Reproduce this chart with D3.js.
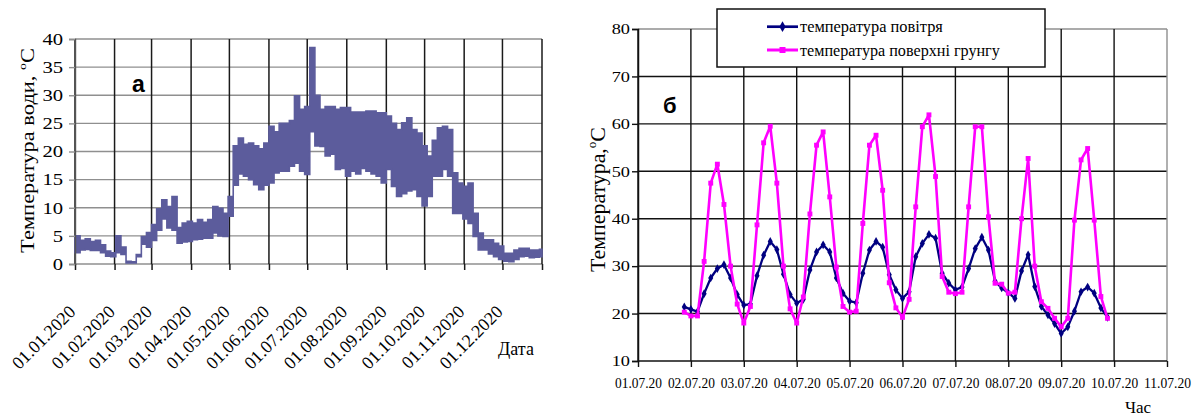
<!DOCTYPE html>
<html><head><meta charset="utf-8">
<script src="https://cdn.jsdelivr.net/npm/d3@7"></script>
<style>body{margin:0;background:#fff}svg{display:block}</style>
</head><body>
<svg id="chart" width="1196" height="419"></svg>
<script>
// ---------------- Panel а : water temperature 2020 ----------------
const waterDateLabels = ["01.01.2020","01.02.2020","01.03.2020","01.04.2020","01.05.2020","01.06.2020",
  "01.07.2020","01.08.2020","01.09.2020","01.10.2020","01.11.2020","01.12.2020"];
const waterYTicks = [0,5,10,15,20,25,30,35,40];
const waterBucketDays = 4; // each value pair covers 4 days, starting 01.01.2020
const waterLow = [2.0,2.5,2.6,2.4,2.4,2.0,1.4,1.3,
  2.0,1.7,0.2,0.2,1.3,3.5,3.0,
  4.2,6.0,8.0,6.4,6.0,3.7,3.9,4.0,
  4.3,4.4,4.6,4.6,5.5,5.0,4.9,
  8.5,14,16,15.6,15,14.1,13.2,14,
  14.4,16.2,16.5,16.5,17.4,17.9,16.5,15.9,
  23.5,21,20.9,19.2,19.5,16.8,17,15.6,
  16.5,16,17,16.5,16,15.6,14.4,
  16.8,13.8,12,12.5,13,13.2,12,10.3,
  12,15.6,15.6,16.8,15.6,9,9,8,
  7.2,4.9,2.5,2.5,1.8,1.3,0.8,
  0.5,0.4,0.8,1.3,1.4,1.1,1.2,1.3];
const waterHigh = [5.0,4.2,4.5,4.0,4.2,3.4,2.3,2.0,
  5.0,3.0,0.5,0.4,1.7,4.9,5.6,
  7.0,9.8,11.4,10.2,12.0,6.5,7.3,7.6,
  7.3,7.9,7.4,7.9,10.2,9.9,9.0,
  12,21,22.4,21.3,21.5,21,20.5,21.5,
  24.5,23.5,25,25,25.5,29.9,27.5,28,
  38.5,30,27.5,28,28,27.5,27.8,27.8,
  27,27,27,27.2,27.2,26.9,26.9,
  26.3,25,23.9,25.1,26,23.9,23.3,21,
  19.2,22,24.2,24.5,23.9,16.2,14.4,13.8,
  14.4,9,5.5,4.3,4.3,3.7,3.2,
  1.9,1.9,2.5,2.8,2.8,2.5,2.5,2.6];

// ---------------- Panel б : air / soil surface temperature ----------------
const hourlyStart = "2020-07-01 21:00";
const stepHours = 3;
const airTemp = [21.4,
  20.9,20.4,24.2,27.5,29.5,30.3,27.5,24,
  21.8,22,28,32.3,35.2,33.5,28.3,24,
  22.2,23,29.2,33,34.5,33,27.5,24.3,
  22.6,22.3,28.5,33.4,35.2,34,28.2,25,
  23.2,24.6,32,34.8,36.7,35.9,28.5,26.4,
  25,25.6,29.5,33.7,36.1,33.4,26.8,25.4,
  24.4,23.2,29,32.4,25.7,21.5,19.7,17.9,
  15.8,17.2,20.5,24.6,25.6,24.3,21.2,19.2];
const soilTemp = [20.3,
  19.5,19.5,31,47.5,51.5,43,30,22,
  18,21.5,38.7,56,59.5,47.5,30,21,
  18,23.5,41,55.5,58.3,44.6,29.8,21.5,
  20.3,20.5,39,55.5,57.6,46,26.5,21.2,
  19.2,23,42.5,59.4,61.9,48.9,27.8,24.5,
  24.2,24.5,42.5,59.4,59.4,40.4,26.4,26.2,
  24.3,24.5,40,52.7,30,22.5,21.1,19,
  17.2,19,39.7,52.4,54.8,39.7,23.6,19];
const dayTickLabels = ["01.07.20","02.07.20","03.07.20","04.07.20","05.07.20","06.07.20",
  "07.07.20","08.07.20","09.07.20","10.07.20","11.07.20"];
const soilYTicks = [10,20,30,40,50,60,70,80];
const seriesNames = ["температура повітря","температура поверхні грунгу"];

const SERIF = "'Liberation Serif','Times New Roman',serif";
const SANS = "'Liberation Sans',Arial,sans-serif";
const svg = d3.select("#chart");

function addText(parent, o) {
  const t = parent.append("text")
    .attr("font-family", o.family || SERIF)
    .attr("font-size", o.size)
    .attr("font-weight", o.weight || "normal")
    .attr("text-anchor", o.anchor || "start")
    .attr("fill", o.fill || "#000");
  if (o.parts) {
    o.parts.forEach(p => {
      const ts = t.append("tspan").text(p.t);
      if (p.size) ts.attr("font-size", p.size);
      if (p.dy) ts.attr("dy", p.dy);
    });
  } else t.text(o.text);
  let k = o.sx || 1;
  if (o.target) k = o.target / t.node().getComputedTextLength();
  t.attr("transform", `translate(${o.x},${o.y}) rotate(${o.rotate || 0}) scale(${k},1)`);
  return t;
}

// ======== Panel а ========
(function(){
  const parse = d3.timeParse("%d.%m.%Y");
  const start = parse(waterDateLabels[0]);
  const end = parse("01.01.2021");
  const x = d3.scaleTime().domain([start, end]).range([75, 542]);
  const y = d3.scaleLinear().domain([0, 40]).range([264, 39]);
  const g = svg.append("g");
  const monthTicks = waterDateLabels.map(parse).concat([end]);

  g.selectAll(".hg").data(waterYTicks).join("line")
    .attr("x1", x.range()[0]).attr("x2", x.range()[1])
    .attr("y1", d => y(d)).attr("y2", d => y(d))
    .attr("stroke", "#8f8f8f").attr("stroke-width", 1.4);
  g.selectAll(".vg").data(monthTicks).join("line")
    .attr("x1", d => x(d)).attr("x2", d => x(d))
    .attr("y1", y(40)).attr("y2", y(0))
    .attr("stroke", "#1a1a1a").attr("stroke-width", 1.5);

  const bands = waterLow.map((lo, i) => ({d: d3.timeDay.offset(start, i * waterBucketDays), lo, hi: waterHigh[i]}));
  bands.push({d: end, lo: waterLow[waterLow.length-1], hi: waterHigh[waterHigh.length-1]});
  const area = d3.area().curve(d3.curveStepAfter)
    .x(d => x(d.d)).y0(d => y(d.lo)).y1(d => y(d.hi));
  g.append("path").datum(bands).attr("d", area)
    .attr("fill", "#5c5c9c").attr("stroke", "#5c5c9c").attr("stroke-width", 1.6)
    .attr("stroke-linejoin", "miter");

  const xAxis = d3.axisBottom(x).tickValues(monthTicks).tickSize(6)
    .tickFormat((d, i) => i < waterDateLabels.length ? waterDateLabels[i] : "");
  const xa = g.append("g").attr("transform", `translate(0,${y(0)})`).call(xAxis);
  xa.select(".domain").remove();
  xa.selectAll(".tick line").attr("stroke", "#1a1a1a").attr("stroke-width", 1.5);
  xa.selectAll(".tick text")
    .attr("font-family", SERIF).attr("font-size", 18).attr("fill", "#000")
    .attr("text-anchor", "end").attr("x", 0).attr("y", 0).attr("dy", 0)
    .attr("transform", "translate(1,49) rotate(-45)");

  const yAxis = d3.axisLeft(y).tickValues(waterYTicks).tickSize(6);
  const ya = g.append("g").attr("transform", `translate(${x.range()[0]},0)`).call(yAxis);
  ya.select(".domain").attr("stroke", "#555").attr("stroke-width", 1.4);
  ya.selectAll(".tick line").attr("stroke", "#8f8f8f").attr("stroke-width", 1.4);
  ya.selectAll(".tick text")
    .attr("font-family", SERIF).attr("font-size", 16.5).attr("fill", "#000")
    .attr("x", 0).attr("transform", "translate(-12,0) scale(1.25,1)");

  addText(g, {x: 132, y: 92, text: "а", size: 23, family: SANS, weight: "bold"});
  addText(g, {x: 34, y: 150.5, rotate: -90, anchor: "middle", size: 18, target: 205,
    parts: [{t: "Температура води, "}, {t: "o", size: 11, dy: -8}, {t: "C", dy: 8}]});
  addText(g, {x: 498, y: 355, text: "Дата", size: 18});
})();

// ======== Panel б ========
(function(){
  const parseT = d3.timeParse("%Y-%m-%d %H:%M");
  const parseD = d3.timeParse("%d.%m.%y");
  const t0 = parseT(hourlyStart);
  const dayTicks = dayTickLabels.map(parseD);
  const x = d3.scaleTime().domain([dayTicks[0], dayTicks[dayTicks.length-1]]).range([638, 1167]);
  const y = d3.scaleLinear().domain([10, 80]).range([361, 29]);
  const g = svg.append("g");

  g.selectAll(".hg").data(soilYTicks.slice(1)).join("line")
    .attr("x1", x.range()[0]).attr("x2", x.range()[1])
    .attr("y1", d => y(d)).attr("y2", d => y(d))
    .attr("stroke", d => d === 80 ? "#8f8f8f" : "#111").attr("stroke-width", 1.4);
  g.selectAll(".vg").data(dayTicks).join("line")
    .attr("x1", d => x(d)).attr("x2", d => x(d))
    .attr("y1", y(80)).attr("y2", y(10))
    .attr("stroke", (d, i) => i === dayTicks.length - 1 ? "#8f8f8f" : "#111").attr("stroke-width", 1.4);

  const xAxis = d3.axisBottom(x).tickValues(dayTicks).tickSize(6).tickPadding(9)
    .tickFormat((d, i) => dayTickLabels[i]);
  const xa = g.append("g").attr("transform", `translate(0,${y(10)})`).call(xAxis);
  xa.select(".domain").remove();
  g.append("line").attr("x1", x.range()[0]).attr("x2", x.range()[1])
    .attr("y1", y(10)).attr("y2", y(10)).attr("stroke", "#111").attr("stroke-width", 1.5);
  xa.selectAll(".tick line").attr("stroke", "#111").attr("stroke-width", 1.4);
  xa.selectAll(".tick text").each(function(){
    const t = d3.select(this);
    t.attr("font-family", SERIF).attr("font-size", 15.5).attr("fill", "#000")
      .attr("y", 0).attr("dy", 0);
    const L = this.getComputedTextLength();
    t.attr("transform", `translate(0,27) scale(${47 / L},1)`);
  });

  const yAxis = d3.axisLeft(y).tickValues(soilYTicks).tickSize(6);
  const ya = g.append("g").attr("transform", `translate(${x.range()[0]},0)`).call(yAxis);
  ya.select(".domain").attr("stroke", "#111").attr("stroke-width", 1.5);
  ya.selectAll(".tick line").attr("stroke", "#111").attr("stroke-width", 1.4);
  ya.selectAll(".tick text")
    .attr("font-family", SERIF).attr("font-size", 15).attr("fill", "#000")
    .attr("x", 0).attr("transform", "translate(-8,0) scale(1.22,1)");

  const times = airTemp.map((v, i) => d3.timeHour.offset(t0, i * stepHours));
  const series = [
    {name: seriesNames[0], values: airTemp, color: "#000080", symbol: d3.symbolDiamond, size: 22, width: 2.3},
    {name: seriesNames[1], values: soilTemp, color: "#ff00ff", symbol: d3.symbolSquare, size: 24, width: 2.6}
  ];
  const line = d3.line().x((d, i) => x(times[i])).y(d => y(d));
  series.forEach(s => {
    g.append("path").datum(s.values).attr("d", line)
      .attr("fill", "none").attr("stroke", s.color).attr("stroke-width", s.width)
      .attr("stroke-linejoin", "round");
    g.selectAll(null).data(s.values).join("path")
      .attr("d", d3.symbol(s.symbol, s.size))
      .attr("transform", (d, i) => `translate(${x(times[i])},${y(d)})`)
      .attr("fill", s.color);
  });

  const lg = g.append("g");
  lg.append("rect").attr("x", 717).attr("y", 9).attr("width", 328).attr("height", 58)
    .attr("fill", "#fff").attr("stroke", "#111").attr("stroke-width", 1.5);
  const rows = [{y: 26.7, base: 32, target: 143}, {y: 50, base: 55.5, target: 200}];
  series.forEach((s, i) => {
    const r = rows[i];
    lg.append("line").attr("x1", 767).attr("x2", 798).attr("y1", r.y).attr("y2", r.y)
      .attr("stroke", s.color).attr("stroke-width", s.width + 0.4);
    lg.append("path").attr("d", d3.symbol(s.symbol, s.size * 1.5))
      .attr("transform", `translate(782.5,${r.y})`).attr("fill", s.color);
    addText(lg, {x: 800, y: r.base, text: s.name, size: 16, target: r.target});
  });

  addText(g, {x: 663, y: 113, text: "б", size: 22, family: SANS, weight: "bold"});
  addText(g, {x: 605, y: 199.5, rotate: -90, anchor: "middle", size: 20, target: 145,
    parts: [{t: "Температура,"}, {t: "o", size: 12, dy: -9}, {t: "C", dy: 9}]});
  addText(g, {x: 1125, y: 413, text: "Час", size: 17});
})();
</script>
</body></html>
